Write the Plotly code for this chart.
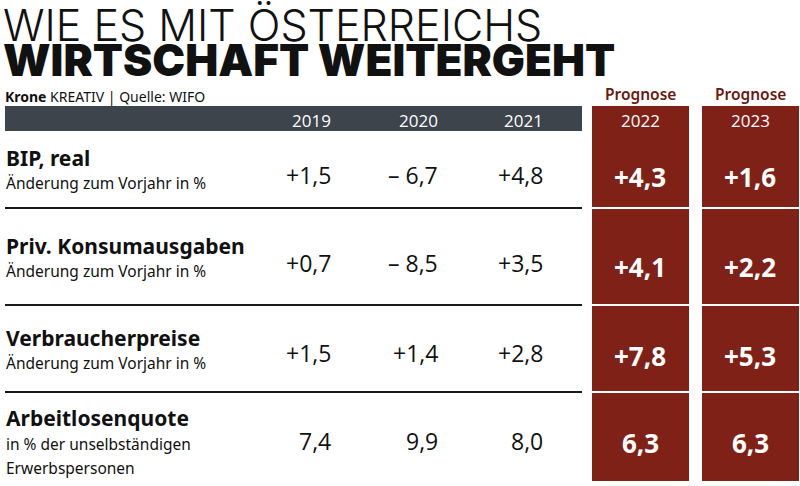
import plotly.graph_objects as go

# ---- data ----
years_hist = ["2019", "2020", "2021"]
years_prog = ["2022", "2023"]
row_titles = ["BIP, real", "Priv. Konsumausgaben", "Verbraucherpreise", "Arbeitlosenquote"]
row_subs = [
    ["Änderung zum Vorjahr in %"],
    ["Änderung zum Vorjahr in %"],
    ["Änderung zum Vorjahr in %"],
    ["in % der unselbständigen", "Erwerbspersonen"],
]
vals_hist = [
    ["+1,5", "– 6,7", "+4,8"],
    ["+0,7", "– 8,5", "+3,5"],
    ["+1,5", "+1,4", "+2,8"],
    ["7,4", "9,9", "8,0"],
]
vals_prog = [
    ["+4,3", "+1,6"],
    ["+4,1", "+2,2"],
    ["+7,8", "+5,3"],
    ["6,3", "6,3"],
]
title1 = "WIE ES MIT ÖSTERREICHS"
title2 = "WIRTSCHAFT WEITERGEHT"
source = "<b>Krone</b> KREATIV | Quelle: WIFO"
prog_label = "Prognose"

# ---- layout geometry ----
W, H = 800, 486
RED = "#7f2117"
BAR = "#3e444c"
hist_x_right = [333, 440, 545]
prog_x = [640, 750]
prog_box = [(592, 689), (702, 799)]
row_label_y = [158, 246, 338, 418]
row_sub_y = [183, 271, 363, 444]
row_val_y = [175, 263, 353, 441]
row_prog_y = [177, 267, 356, 443]
sep_y = [208, 305, 392]

fig = go.Figure()
fig.add_trace(go.Scatter(x=[0, W], y=[0, H], mode="markers", marker=dict(opacity=0), hoverinfo="skip", showlegend=False))

shapes = []
shapes.append(dict(type="rect", x0=5, x1=582, y0=106, y1=131, fillcolor=BAR, line=dict(width=0), layer="below"))
for (x0, x1) in prog_box:
    shapes.append(dict(type="rect", x0=x0, x1=x1, y0=106, y1=481, fillcolor=RED, line=dict(width=0), layer="below"))
    for sy in sep_y:
        shapes.append(dict(type="line", x0=x0, x1=x1, y0=sy, y1=sy, line=dict(color="white", width=2)))
for sy in sep_y:
    shapes.append(dict(type="line", x0=5, x1=582, y0=sy, y1=sy, line=dict(color="#1a1a1a", width=2)))

ann = []
def add(text, x, y, size, color="#111", family="Noto Sans", xanchor="left", weight=None):
    f = dict(size=size, color=color, family=family)
    if weight is not None:
        f["weight"] = weight
    ann.append(dict(text=text, x=x, y=y, xref="x", yref="y", showarrow=False,
                    xanchor=xanchor, yanchor="middle", font=f))

add(title1, 1, 25, 43, family="Inter", weight=300)
add(title2, 1, 60, 44, family="Inter", weight=900)
add(source, 3, 96, 14)

for i, yr in enumerate(years_hist):
    add(yr, hist_x_right[i] - 22, 120, 17, color="white", family="Open Sans", xanchor="center")
for i, yr in enumerate(years_prog):
    add(yr, prog_x[i], 120, 17, color="white", family="Open Sans", xanchor="center")
    add(prog_label, prog_x[i], 94, 15.5, color="#6a1a10", family="Noto Sans", xanchor="center", weight=600)

for r in range(4):
    add("<b>" + row_titles[r] + "</b>", 4, row_label_y[r], 21)
    for k, s in enumerate(row_subs[r]):
        add(s, 4, row_sub_y[r] + k * 24, 15.5)
    for c in range(3):
        add(vals_hist[r][c], hist_x_right[c], row_val_y[r], 23, family="Open Sans", xanchor="right")
    for c in range(2):
        add("<b>" + vals_prog[r][c] + "</b>", prog_x[c], row_prog_y[r], 26, color="white", family="Open Sans", xanchor="center")

fig.update_layout(
    width=W, height=H, margin=dict(l=0, r=0, t=0, b=0),
    paper_bgcolor="white", plot_bgcolor="white",
    xaxis=dict(range=[0, W], visible=False, fixedrange=True),
    yaxis=dict(range=[H, 0], visible=False, fixedrange=True),
    shapes=shapes, annotations=ann, showlegend=False,
)
fig.write_html("out.html", config={"displayModeBar": False},
               post_script="document.body.style.margin='0';document.body.style.overflow='hidden';")
